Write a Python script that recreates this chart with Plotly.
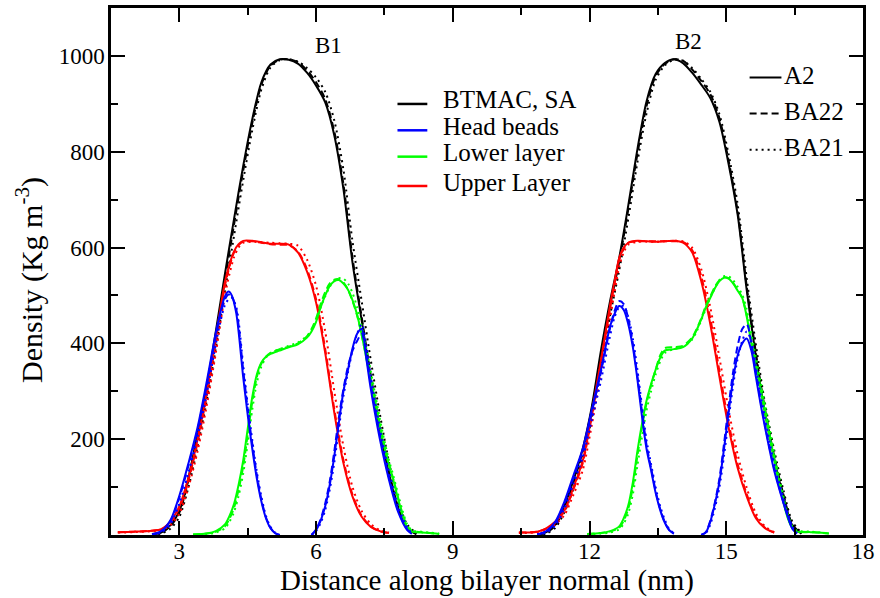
import plotly.graph_objects as go

# ---------------------------------------------------------------
# Density profiles along the bilayer normal for two bilayers (B1, B2)
# Systems: A2 (solid), BA22 (dashed), BA21 (dotted)
# ---------------------------------------------------------------

# BTMAC, SA total density
btmac_x = [2.4, 2.6, 2.8, 3.0, 3.2, 3.4, 3.6, 3.8, 4.0, 4.2, 4.4, 4.6, 4.8, 5.0, 5.2,
           5.4, 5.6, 5.8, 6.0, 6.2, 6.4, 6.6, 6.8, 7.0, 7.2, 7.4, 7.6, 7.8, 8.0, 8.2,
           None,
           10.85, 11.05, 11.25, 11.45, 11.65, 11.85, 12.05, 12.25, 12.45, 12.65, 12.85, 13.05,
           13.25, 13.45, 13.65, 13.85, 14.05, 14.25, 14.45, 14.65, 14.85, 15.05, 15.25, 15.45,
           15.65, 15.85, 16.05, 16.25, 16.45, 16.65]
btmac_a2 = [2, 5, 20, 50, 120, 212, 310, 425, 545, 660, 770, 868, 945, 982, 993,
            992, 984, 965, 938, 903, 834, 722, 568, 448, 327, 220, 128, 55, 14, 2,
            None,
            1, 6, 22, 62, 115, 180, 268, 385, 488, 578, 688, 805, 905, 962, 985,
            993, 985, 965, 940, 912, 862, 775, 668, 510, 372, 255, 160, 82, 20, 3]
btmac_ba22 = [2, 5, 18, 47, 115, 205, 300, 412, 532, 648, 760, 860, 940, 980, 992,
              993, 987, 970, 945, 910, 842, 732, 578, 455, 333, 225, 132, 58, 15, 2,
              None,
              1, 5, 20, 58, 110, 175, 262, 375, 478, 570, 680, 795, 895, 958, 983,
              993, 990, 972, 948, 920, 870, 782, 675, 518, 380, 262, 165, 86, 22, 3]
btmac_ba21 = [1, 3, 13, 38, 100, 185, 280, 390, 508, 625, 740, 845, 930, 976, 991,
              993, 988, 975, 955, 925, 865, 762, 612, 488, 365, 252, 152, 72, 22, 4,
              None,
              0, 3, 15, 48, 98, 160, 245, 355, 458, 552, 660, 778, 880, 950, 980,
              992, 990, 975, 952, 925, 878, 795, 690, 535, 397, 275, 178, 95, 28, 5]

# Upper layer
upper_x = [1.65, 2.0, 2.4, 2.6, 2.8, 3.0, 3.2, 3.4, 3.6, 3.8, 3.9, 4.0, 4.1, 4.2, 4.3, 4.4,
           4.6, 4.8, 5.0, 5.2, 5.4, 5.6, 5.8, 6.0, 6.2, 6.4, 6.6, 6.8, 7.0, 7.2, 7.4, 7.6,
           None,
           10.45, 10.85, 11.05, 11.25, 11.45, 11.65, 11.85, 12.05, 12.25, 12.45, 12.55, 12.65,
           12.75, 12.85, 13.05, 13.45, 13.85, 14.05, 14.25, 14.45, 14.65, 14.85, 15.05, 15.25,
           15.45, 15.65, 15.85, 16.05]
upper_a2 = [6, 7, 9, 12, 28, 60, 120, 200, 298, 412, 472, 528, 565, 592, 607, 614,
            614, 611, 608, 608, 606, 590, 550, 485, 380, 255, 150, 80, 38, 17, 8, 4,
            None,
            5, 7, 14, 28, 52, 100, 155, 255, 365, 480, 530, 578, 600, 610,
            614, 612, 614, 610, 590, 530, 440, 330, 225, 140, 80, 35, 14, 5]
upper_ba22 = [6, 7, 9, 12, 26, 56, 114, 193, 290, 402, 463, 520, 560, 590, 605, 612,
              613, 610, 607, 606, 605, 592, 555, 492, 388, 262, 156, 84, 40, 18, 8, 4,
              None,
              5, 7, 13, 26, 50, 96, 150, 248, 358, 472, 525, 575, 598, 610,
              613, 613, 613, 612, 595, 540, 452, 342, 235, 148, 85, 38, 15, 5]
upper_ba21 = [5, 6, 8, 10, 20, 45, 100, 175, 270, 380, 442, 500, 545, 580, 600, 610,
              612, 611, 610, 609, 608, 604, 575, 520, 425, 300, 185, 100, 50, 23, 10, 5,
              None,
              4, 6, 11, 22, 42, 85, 135, 230, 338, 452, 508, 560, 590, 606,
              612, 612, 614, 613, 600, 555, 475, 370, 262, 168, 98, 45, 18, 6]

# Lower layer
lower_x = [3.3, 3.6, 3.8, 4.0, 4.1, 4.2, 4.3, 4.4, 4.5, 4.6, 4.7, 4.8, 4.9, 5.0, 5.2, 5.4,
           5.6, 5.8, 5.9, 6.0, 6.1, 6.2, 6.3, 6.4, 6.5, 6.6, 6.7, 6.8, 6.9, 7.0, 7.1, 7.2,
           7.3, 7.4, 7.5, 7.6, 7.7, 7.8, 7.9, 8.0, 8.1, 8.3, 8.5, 8.7,
           None,
           11.95, 12.25, 12.45, 12.65, 12.75, 12.85, 12.95, 13.05, 13.15, 13.25, 13.35, 13.45,
           13.55, 13.65, 13.85, 14.05, 14.25, 14.35, 14.45, 14.55, 14.65, 14.75, 14.85, 14.95,
           15.05, 15.15, 15.25, 15.35, 15.45, 15.55, 15.65, 15.75, 15.85, 15.95, 16.05, 16.15,
           16.25, 16.35, 16.45, 16.55, 16.85, 17.05, 17.25]
lower_a2 = [1, 3, 8, 22, 40, 65, 105, 155, 222, 288, 335, 360, 372, 378, 385, 392,
            398, 412, 425, 445, 475, 500, 520, 530, 532, 525, 512, 490, 460, 418, 370, 322,
            275, 225, 182, 145, 112, 75, 40, 15, 7, 5, 4, 2,
            None,
            2, 4, 8, 18, 35, 62, 110, 175, 232, 280, 315, 345, 370, 385,
            388, 392, 410, 428, 450, 475, 495, 515, 530, 537, 535, 525, 510, 495,
            455, 400, 350, 305, 255, 205, 158, 111, 70, 35, 14, 7, 6, 5, 3]
lower_ba22 = [1, 3, 7, 18, 34, 57, 95, 143, 210, 278, 330, 358, 372, 380, 388, 393,
              400, 415, 430, 452, 482, 507, 525, 533, 534, 527, 512, 488, 458, 418, 372, 325,
              278, 228, 186, 148, 115, 78, 43, 18, 9, 6, 4, 2,
              None,
              2, 4, 7, 15, 30, 55, 100, 165, 225, 275, 312, 345, 375, 390,
              392, 395, 412, 430, 452, 478, 498, 518, 532, 538, 536, 526, 512, 495,
              458, 405, 355, 310, 260, 210, 162, 115, 73, 37, 15, 8, 6, 5, 3]
lower_ba21 = [0, 2, 5, 14, 28, 48, 82, 128, 192, 262, 318, 352, 370, 380, 388, 395,
              402, 415, 428, 448, 475, 498, 518, 530, 536, 535, 525, 505, 475, 435, 390, 342,
              292, 242, 196, 156, 122, 85, 50, 22, 10, 7, 5, 3,
              None,
              1, 3, 5, 12, 24, 45, 85, 145, 205, 260, 300, 335, 362, 380,
              388, 393, 408, 425, 448, 472, 495, 515, 532, 540, 540, 532, 518, 502,
              470, 420, 370, 322, 272, 222, 172, 125, 82, 43, 18, 9, 7, 5, 3]

# Head beads (one peak per leaflet)
head_x = [2.4, 2.6, 2.8, 3.0, 3.2, 3.4, 3.6, 3.8, 3.9, 4.0, 4.08, 4.15, 4.25, 4.4, 4.5,
          4.6, 4.7, 4.8, 4.9, 5.0, 5.1, 5.2,
          None,
          5.9, 6.0, 6.1, 6.2, 6.3, 6.4, 6.5, 6.6, 6.7, 6.8, 6.9, 7.0, 7.1, 7.2, 7.4, 7.6,
          7.8, 8.0, 8.1,
          None,
          10.85, 11.05, 11.25, 11.45, 11.65, 11.85, 12.05, 12.25, 12.45, 12.55, 12.65, 12.75,
          12.85, 12.95, 13.05, 13.15, 13.25, 13.35, 13.45, 13.55, 13.65, 13.75, 13.85,
          None,
          14.45, 14.55, 14.65, 14.75, 14.85, 14.95, 15.05, 15.15, 15.25, 15.35, 15.45, 15.55,
          15.65, 15.75, 15.85, 15.95, 16.05, 16.15, 16.25, 16.35, 16.45, 16.55]
head_a2 = [1, 8, 30, 82, 150, 225, 320, 422, 465, 498, 508, 500, 462, 330, 250,
           180, 118, 70, 35, 14, 4, 0,
           None,
           0, 10, 30, 60, 105, 165, 235, 300, 345, 390, 420, 430, 370, 305, 200, 115,
           48, 10, 2,
           None,
           1, 8, 28, 70, 125, 180, 262, 345, 435, 462, 478, 470, 440, 392,
           325, 248, 180, 135, 88, 52, 26, 10, 3,
           None,
           0, 5, 28, 65, 111, 180, 255, 325, 375, 400, 410, 385, 330, 275,
           225, 178, 135, 100, 68, 38, 13, 3]
head_ba22 = [1, 7, 28, 78, 145, 220, 312, 415, 460, 492, 502, 498, 470, 345, 262,
             190, 125, 74, 37, 15, 4, 0,
             None,
             0, 12, 33, 66, 112, 175, 245, 305, 352, 385, 405, 420, 378, 315, 208, 120,
             52, 12, 3,
             None,
             1, 7, 26, 66, 120, 176, 256, 340, 432, 468, 488, 482, 452, 400,
             332, 258, 188, 140, 92, 54, 27, 10, 3,
             None,
             0, 6, 30, 68, 118, 190, 268, 340, 395, 430, 440, 400, 340, 282,
             230, 182, 140, 104, 70, 40, 14, 3]
head_ba21 = [0, 5, 22, 66, 130, 205, 295, 398, 445, 480, 492, 495, 475, 355, 272,
             198, 132, 80, 40, 17, 5, 0,
             None,
             0, 8, 25, 52, 95, 152, 222, 290, 340, 385, 420, 440, 395, 330, 222, 132,
             60, 16, 4,
             None,
             0, 5, 20, 56, 108, 162, 240, 322, 415, 455, 475, 478, 455, 410,
             345, 270, 198, 148, 100, 60, 32, 12, 4,
             None,
             0, 4, 22, 56, 100, 165, 240, 312, 368, 405, 425, 405, 352, 295,
             245, 195, 150, 112, 78, 46, 18, 5]

components = [
    ("BTMAC, SA", "#000000", btmac_x, btmac_a2, btmac_ba22, btmac_ba21),
    ("Upper Layer", "#ff0000", upper_x, upper_a2, upper_ba22, upper_ba21),
    ("Lower layer", "#00ff00", lower_x, lower_a2, lower_ba22, lower_ba21),
    ("Head beads", "#0000ff", head_x, head_a2, head_ba22, head_ba21),
]
legend_components = ["BTMAC, SA", "Head beads", "Lower layer", "Upper Layer"]
component_colors = {"BTMAC, SA": "#000000", "Head beads": "#0000ff",
                    "Lower layer": "#00ff00", "Upper Layer": "#ff0000"}
systems = ["A2", "BA22", "BA21"]
system_dash = {"A2": "solid", "BA22": "7px,4px", "BA21": "2px,4px"}

x_ticks = [3, 6, 9, 12, 15, 18]
y_ticks = [200, 400, 600, 800, 1000]
peak_labels = ["B1", "B2"]
peak_label_x = [6.28, 14.18]
peak_label_y = [1022, 1030]

FONT = "Liberation Serif"

fig = go.Figure()
for name, color, xs, ya2, yba22, yba21 in components:
    for sysname, ys in (("BA21", yba21), ("BA22", yba22), ("A2", ya2)):
        fig.add_trace(go.Scatter(
            x=xs, y=ys, mode="lines", name=f"{name} ({sysname})",
            line=dict(color=color, width=2, dash=system_dash[sysname],
                      shape="spline", smoothing=0.8),
            connectgaps=False, showlegend=False, hoverinfo="skip"))

# plot-area geometry (pixels) used to place the hand-built keys
L, R, T, B = 111, 867, 5, 535


def px_x(p):
    return (p - L) / (R - L)


def px_y(p):
    return (B - p) / (B - T)


shapes = []
annotations = []

# Key for the density components
key1_rows = [101.5, 128, 154.5, 184]
for label, yrow in zip(legend_components, key1_rows):
    shapes.append(dict(type="line", xref="paper", yref="paper",
                       x0=px_x(399), x1=px_x(429), y0=px_y(yrow), y1=px_y(yrow),
                       line=dict(color=component_colors[label], width=2.5)))
    annotations.append(dict(text=label, xref="paper", yref="paper",
                            x=px_x(443), y=px_y(yrow - 4), xanchor="left", yanchor="middle",
                            showarrow=False, font=dict(family=FONT, size=25, color="black")))

# Key for the systems
key2_rows = [75, 111, 147.5]
for label, yrow in zip(systems, key2_rows):
    shapes.append(dict(type="line", xref="paper", yref="paper",
                       x0=px_x(753), x1=px_x(785), y0=px_y(yrow), y1=px_y(yrow),
                       line=dict(color="black", width=2, dash=system_dash[label])))
    annotations.append(dict(text=label, xref="paper", yref="paper",
                            x=px_x(786), y=px_y(yrow - 2), xanchor="left", yanchor="middle",
                            showarrow=False, font=dict(family=FONT, size=25, color="black")))

for lab, lx, ly in zip(peak_labels, peak_label_x, peak_label_y):
    annotations.append(dict(text=lab, x=lx, y=ly, xref="x", yref="y", showarrow=False,
                            xanchor="center", yanchor="middle",
                            font=dict(family=FONT, size=23, color="black")))

# vertical axis title
annotations.append(dict(text="Density (Kg m<sup>-3</sup>)", xref="paper", yref="paper",
                        x=px_x(29), y=px_y(278), xanchor="center", yanchor="middle",
                        textangle=-90, showarrow=False,
                        font=dict(family=FONT, size=30, color="black")))

axis_common = dict(
    showline=True, linecolor="black", linewidth=2.5, mirror="allticks",
    ticks="inside", ticklen=14, tickwidth=2, tickcolor="black",
    showgrid=False, zeroline=False,
    tickfont=dict(family=FONT, size=23, color="black"),
)

fig.update_layout(
    width=880, height=598,
    margin=dict(l=L, r=880 - R, t=T, b=598 - B),
    paper_bgcolor="white", plot_bgcolor="white",
    showlegend=False,
    shapes=shapes, annotations=annotations,
    xaxis=dict(range=[1.5, 18], tickvals=x_ticks, ticktext=[str(v) for v in x_ticks],
               minor=dict(ticks="inside", ticklen=7, tickwidth=2, tickcolor="black",
                          tickvals=[4.5, 7.5, 10.5, 13.5, 16.5], showgrid=False),
               title=dict(text="Distance along bilayer normal (nm)",
                          font=dict(family=FONT, size=29, color="black"), standoff=0),
               ticklabelstandoff=-6,
               **axis_common),
    yaxis=dict(range=[0, 1100], tickvals=y_ticks, ticktext=[str(v) for v in y_ticks],
               minor=dict(ticks="inside", ticklen=7, tickwidth=2, tickcolor="black",
                          tickvals=[100, 300, 500, 700, 900], showgrid=False),
               ticklabelstandoff=-1,
               **axis_common),
    font=dict(family=FONT, color="black"),
)

fig.write_html("out.html")
